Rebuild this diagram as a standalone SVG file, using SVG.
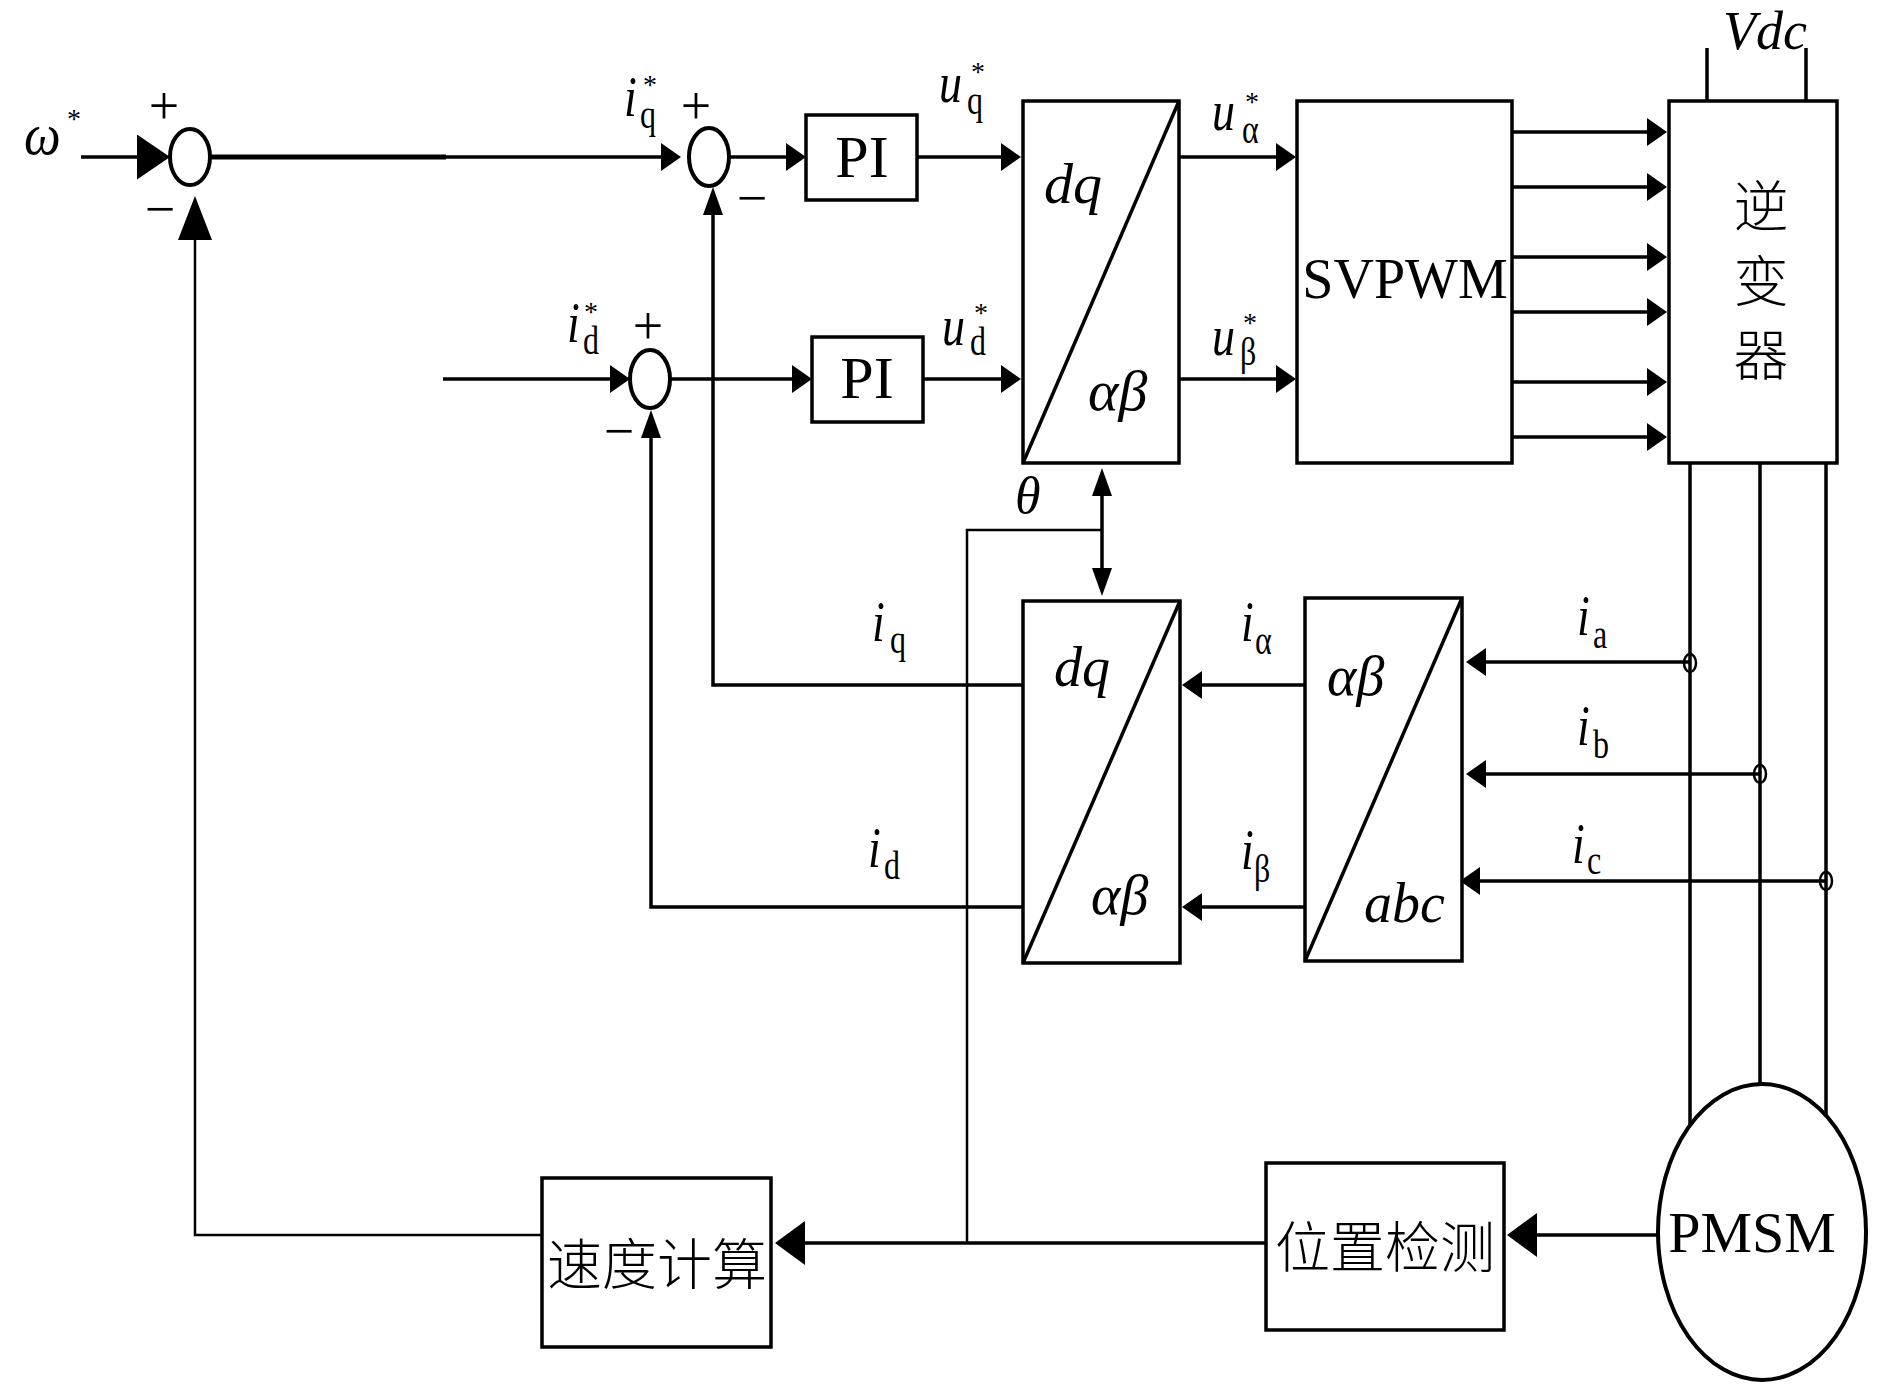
<svg xmlns="http://www.w3.org/2000/svg" width="1890" height="1389" viewBox="0 0 1890 1389">
<style>
.box{fill:#fff;stroke:#000;stroke-width:3.5}
.sum{fill:#fff;stroke:#000;stroke-width:4}
.ln{fill:none;stroke:#000;stroke-width:3.5}
.thin{fill:none;stroke:#000;stroke-width:2.5}
.tap{fill:none;stroke:#000;stroke-width:2.5}
.tr{font-family:"Liberation Serif",serif;fill:#000}
.it{font-family:"Liberation Serif",serif;font-style:italic;fill:#000}
.cjk{font-family:"Noto Sans CJK SC",sans-serif;font-weight:300;fill:#000}
.m{font-size:46px}
.s{font-size:32px}
.st{font-size:28px}
.pm{font-size:54px}
.blk{font-size:58px}
</style>
<defs>
<marker id="a" viewBox="0 0 20 28" refX="14" refY="14" markerWidth="20" markerHeight="28" markerUnits="userSpaceOnUse" orient="auto"><path d="M0,0L20,14L0,28z" fill="#000"/></marker>
<marker id="an" viewBox="0 0 28 20" refX="22" refY="10" markerWidth="28" markerHeight="20" markerUnits="userSpaceOnUse" orient="auto-start-reverse"><path d="M0,0L28,10L0,20z" fill="#000"/></marker>
<marker id="ab" viewBox="0 0 33 45" refX="27" refY="22.5" markerWidth="33" markerHeight="45" markerUnits="userSpaceOnUse" orient="auto"><path d="M0,0L33,22.5L0,45z" fill="#000"/></marker>
<marker id="af" viewBox="0 0 44 34" refX="38" refY="17" markerWidth="44" markerHeight="34" markerUnits="userSpaceOnUse" orient="auto"><path d="M0,0L44,17L0,34z" fill="#000"/></marker>
<marker id="am" viewBox="0 0 30 44" refX="24" refY="22" markerWidth="30" markerHeight="44" markerUnits="userSpaceOnUse" orient="auto"><path d="M0,0L30,22L0,44z" fill="#000"/></marker>
</defs>
<rect width="1890" height="1389" fill="#fff"/>

<g id="connectors">
<path class="ln" d="M81,157H164" marker-end="url(#ab)"/>
<path fill="none" stroke="#000" stroke-width="5" d="M210,157H446"/>
<path class="ln" d="M444,157H675" marker-end="url(#a)"/>
<path class="ln" d="M729,157H800" marker-end="url(#a)"/>
<path class="ln" d="M917,157H1015" marker-end="url(#a)"/>
<path class="ln" d="M1179,157H1290" marker-end="url(#a)"/>
<path class="ln" d="M443,379H624" marker-end="url(#a)"/>
<path class="ln" d="M670,379H806" marker-end="url(#a)"/>
<path class="ln" d="M923,379H1015" marker-end="url(#a)"/>
<path class="ln" d="M1179,379H1290" marker-end="url(#a)"/>
<path class="ln" d="M1512,132H1661" marker-end="url(#a)"/>
<path class="ln" d="M1512,187H1661" marker-end="url(#a)"/>
<path class="ln" d="M1512,257H1661" marker-end="url(#a)"/>
<path class="ln" d="M1512,312H1661" marker-end="url(#a)"/>
<path class="ln" d="M1512,382H1661" marker-end="url(#a)"/>
<path class="ln" d="M1512,437H1661" marker-end="url(#a)"/>
<path class="ln" d="M1707,101V48M1806,101V48"/>
<path class="ln" d="M1023,685H713V193" marker-end="url(#an)"/>
<path class="ln" d="M1023,907H651V416" marker-end="url(#an)"/>
<path class="thin" d="M542,1235H195V202" marker-end="url(#af)"/>
<path class="ln" d="M1102,474V590" marker-start="url(#an)" marker-end="url(#an)"/>
<path class="thin" d="M1102,530H967V1243"/>
<path class="ln" d="M1266,1243H781" marker-end="url(#am)"/>
<path class="ln" d="M1657,1235H1513" marker-end="url(#am)"/>
<path class="ln" d="M1690,463V1125M1760,463V1084M1826,463V1115"/>
<path class="ln" d="M1689,662H1472" marker-end="url(#a)"/>
<path class="ln" d="M1759,774H1472" marker-end="url(#a)"/>
<path class="ln" d="M1826,881H1466" marker-end="url(#a)"/>
<path class="ln" d="M1305,685H1188" marker-end="url(#a)"/>
<path class="ln" d="M1305,907H1188" marker-end="url(#a)"/>
<ellipse class="tap" cx="1690" cy="663" rx="6" ry="9"/>
<ellipse class="tap" cx="1760" cy="774" rx="6" ry="9"/>
<ellipse class="tap" cx="1826" cy="881" rx="6" ry="9"/>
</g>

<g id="sum-speed">
<ellipse class="sum" cx="190" cy="157" rx="20" ry="28"/>
<text class="tr pm" x="164" y="124" text-anchor="middle">+</text>
<text class="tr pm" x="160" y="227" text-anchor="middle">−</text>
</g>
<g id="sum-q">
<ellipse class="sum" cx="709" cy="157" rx="20" ry="29"/>
<text class="tr pm" x="696" y="124" text-anchor="middle">+</text>
<text class="tr pm" x="752" y="216" text-anchor="middle">−</text>
</g>
<g id="sum-d">
<ellipse class="sum" cx="650" cy="379" rx="20" ry="29"/>
<text class="tr pm" x="648" y="344" text-anchor="middle">+</text>
<text class="tr pm" x="619" y="449" text-anchor="middle">−</text>
</g>

<g id="pi-q">
<rect class="box" x="806" y="115" width="111" height="85"/>
<text class="tr" font-size="60" x="862" y="177" text-anchor="middle">PI</text>
</g>
<g id="pi-d">
<rect class="box" x="812" y="337" width="111" height="85"/>
<text class="tr" font-size="60" x="867" y="398" text-anchor="middle">PI</text>
</g>

<g id="park-inv">
<rect class="box" x="1023" y="101" width="156" height="362"/>
<path class="ln" d="M1023,463L1179,101"/>
<text class="it blk" x="1044" y="203">dq</text>
<text class="it blk" x="1088" y="410">αβ</text>
</g>

<g id="svpwm">
<rect class="box" x="1297" y="101" width="215" height="362"/>
<text class="tr" font-size="56" x="1405" y="298" text-anchor="middle">SVPWM</text>
</g>

<g id="inverter">
<rect class="box" x="1669" y="101" width="168" height="362"/>
<text class="cjk" font-size="55" x="1761" y="226" text-anchor="middle">逆</text>
<text class="cjk" font-size="55" x="1761" y="301" text-anchor="middle">变</text>
<text class="cjk" font-size="55" x="1761" y="375" text-anchor="middle">器</text>
<text class="it" font-size="54" x="1723" y="49">Vdc</text>
</g>

<g id="park">
<rect class="box" x="1023" y="601" width="157" height="362"/>
<path class="ln" d="M1023,963L1180,601"/>
<text class="it" font-size="56" x="1054" y="686">dq</text>
<text class="it" font-size="56" x="1091" y="914">αβ</text>
</g>

<g id="clarke">
<rect class="box" x="1305" y="598" width="157" height="363"/>
<path class="ln" d="M1305,961L1462,598"/>
<text class="it" font-size="56" x="1327" y="695">αβ</text>
<text class="it" font-size="56" x="1364" y="922">abc</text>
</g>

<g id="pos-detect">
<rect class="box" x="1266" y="1163" width="238" height="167"/>
<text class="cjk" font-size="55" x="1385" y="1267" text-anchor="middle">位置检测</text>
</g>

<g id="speed-calc">
<rect class="box" x="542" y="1178" width="229" height="169"/>
<text class="cjk" font-size="55" x="657" y="1284" text-anchor="middle">速度计算</text>
</g>

<g id="pmsm">
<ellipse class="sum" cx="1762" cy="1232" rx="104" ry="148"/>
<text class="tr" font-size="58" x="1752" y="1252" text-anchor="middle">PMSM</text>
</g>

<g id="labels">
<text class="it" font-size="52" transform="translate(24,154) scale(1,1.15)">ω</text>
<text class="tr st" x="67" y="128">*</text>

<text class="it m" transform="translate(624,116) scale(1,1.25)">i</text>
<text class="tr s" transform="translate(640,128) scale(1,1.25)">q</text>
<text class="tr st" x="643" y="94">*</text>

<text class="it m" transform="translate(567,342) scale(1,1.25)">i</text>
<text class="tr s" transform="translate(583,354) scale(1,1.25)">d</text>
<text class="tr st" x="584" y="321">*</text>

<text class="it m" transform="translate(939,102) scale(1,1.25)">u</text>
<text class="tr s" transform="translate(967,114) scale(1,1.25)">q</text>
<text class="tr st" x="971" y="81">*</text>

<text class="it m" transform="translate(942,345) scale(1,1.25)">u</text>
<text class="tr s" transform="translate(970,355) scale(1,1.25)">d</text>
<text class="tr st" x="974" y="322">*</text>

<text class="it m" transform="translate(1212,130) scale(1,1.25)">u</text>
<text class="tr s" transform="translate(1242,143) scale(1,1.25)">α</text>
<text class="tr st" x="1245" y="111">*</text>

<text class="it m" transform="translate(1212,355) scale(1,1.25)">u</text>
<text class="tr s" transform="translate(1240,365) scale(1,1.25)">β</text>
<text class="tr st" x="1243" y="332">*</text>

<text class="it" font-size="52" x="1015" y="513">θ</text>

<text class="it m" transform="translate(872,641) scale(1,1.25)">i</text>
<text class="tr s" transform="translate(890,653) scale(1,1.25)">q</text>

<text class="it m" transform="translate(868,867) scale(1,1.25)">i</text>
<text class="tr s" transform="translate(884,879) scale(1,1.25)">d</text>

<text class="it m" transform="translate(1241,641) scale(1,1.25)">i</text>
<text class="tr s" transform="translate(1255,654) scale(1,1.25)">α</text>

<text class="it m" transform="translate(1241,869) scale(1,1.25)">i</text>
<text class="tr s" transform="translate(1254,882) scale(1,1.25)">β</text>

<text class="it m" transform="translate(1577,635) scale(1,1.25)">i</text>
<text class="tr s" transform="translate(1593,648) scale(1,1.25)">a</text>

<text class="it m" transform="translate(1577,745) scale(1,1.25)">i</text>
<text class="tr s" transform="translate(1593,758) scale(1,1.25)">b</text>

<text class="it m" transform="translate(1572,863) scale(1,1.25)">i</text>
<text class="tr s" transform="translate(1587,874) scale(1,1.25)">c</text>
</g>
</svg>
